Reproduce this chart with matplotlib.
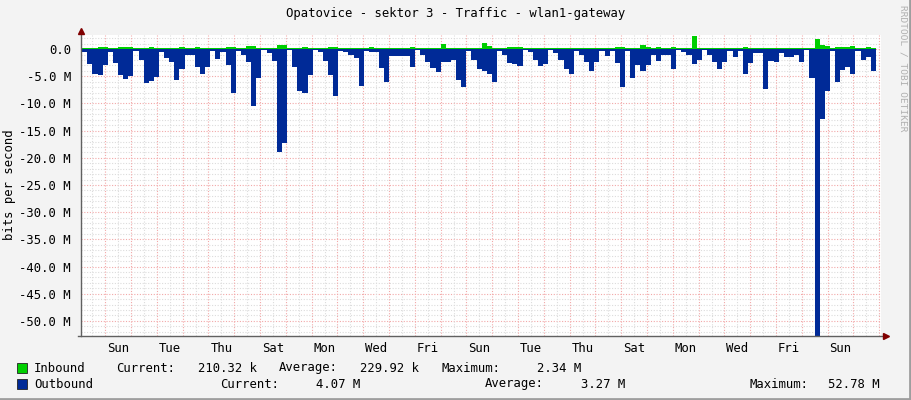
import numpy as np
import matplotlib
matplotlib.use("Agg")
import matplotlib.pyplot as plt
from matplotlib.patches import Rectangle

W, H = 911, 400

# traffic in Mbit/s, one value per rrd step (outbound is drawn below zero)
outbound = [
    0.6, 2.8, 4.5, 4.8, 2.9, 0.6, 2.6, 4.8, 5.5, 4.9,
    0.3, 2.0, 6.2, 5.9, 5.1, 0.5, 1.7, 2.3, 5.7, 3.7,
    1.0, 1.1, 3.2, 4.5, 3.2, 0.3, 1.9, 0.5, 2.9, 8.0,
    0.3, 1.0, 2.4, 10.5, 5.3, 0.2, 0.8, 2.2, 18.9, 17.2,
    0.2, 3.25, 7.7, 8.1, 4.7, 0.2, 0.5, 2.2, 4.8, 8.6,
    0.3, 0.6, 1.0, 1.7, 6.7, 0.3, 0.6, 0.6, 3.4, 6.0,
    1.3, 1.3, 1.3, 1.3, 3.2, 0.2, 1.0, 2.3, 3.5, 4.2,
    2.3, 2.3, 2.0, 5.6, 7.0, 0.3, 2.0, 3.7, 4.0, 4.5,
    6.0, 0.3, 1.0, 2.6, 2.8, 3.1, 0.2, 0.6, 2.0, 3.1,
    2.8, 0.2, 0.8, 2.0, 3.6, 4.5, 0.3, 1.0, 2.4, 4.0,
    2.4, 0.3, 1.2, 0.3, 2.6, 6.9, 0.3, 5.3, 2.9, 4.0,
    2.9, 1.0, 2.2, 1.0, 1.0, 3.6, 0.2, 0.5, 1.1, 2.8,
    2.0, 0.2, 1.1, 2.4, 3.6, 2.4, 0.3, 1.4, 0.4, 4.5,
    2.6, 0.7, 0.7, 7.3, 2.2, 2.3, 0.7, 1.5, 1.5, 1.1,
    2.3, 0.2, 5.3, 52.78, 12.9, 7.7, 0.3, 6.0, 3.9, 3.25,
    4.5, 0.3, 2.0, 1.4, 4.07,
]
inbound = [
    0.2, 0.25, 0.25, 0.4, 0.4, 0.2, 0.25, 0.4, 0.4, 0.4,
    0.2, 0.25, 0.3, 0.4, 0.3, 0.2, 0.25, 0.3, 0.3, 0.45,
    0.25, 0.25, 0.45, 0.3, 0.3, 0.2, 0.3, 0.2, 0.4, 0.4,
    0.2, 0.3, 0.6, 0.6, 0.3, 0.2, 0.3, 0.3, 0.8, 0.8,
    0.2, 0.25, 0.3, 0.45, 0.3, 0.2, 0.2, 0.3, 0.4, 0.4,
    0.2, 0.25, 0.25, 0.3, 0.3, 0.2, 0.45, 0.3, 0.25, 0.3,
    0.25, 0.25, 0.25, 0.25, 0.4, 0.2, 0.25, 0.25, 0.3, 0.3,
    0.9, 0.3, 0.3, 0.3, 0.25, 0.2, 0.3, 0.3, 1.1, 0.5,
    0.3, 0.2, 0.25, 0.35, 0.35, 0.35, 0.2, 0.25, 0.3, 0.3,
    0.3, 0.2, 0.25, 0.3, 0.3, 0.3, 0.2, 0.2, 0.3, 0.3,
    0.3, 0.2, 0.25, 0.2, 0.4, 0.4, 0.2, 0.3, 0.3, 0.7,
    0.4, 0.25, 0.35, 0.25, 0.25, 0.35, 0.2, 0.2, 0.25, 2.34,
    0.3, 0.2, 0.3, 0.3, 0.3, 0.3, 0.2, 0.25, 0.2, 0.35,
    0.3, 0.25, 0.2, 0.3, 0.3, 0.3, 0.2, 0.25, 0.25, 0.25,
    0.25, 0.2, 0.3, 1.84, 0.74, 0.6, 0.2, 0.4, 0.4, 0.4,
    0.6, 0.25, 0.3, 0.35, 0.21,
]
day_labels = ['Sun', 'Tue', 'Thu', 'Sat', 'Mon', 'Wed', 'Fri', 'Sun',
              'Tue', 'Thu', 'Sat', 'Mon', 'Wed', 'Fri', 'Sun']

title = 'Opatovice - sektor 3 - Traffic - wlan1-gateway'
legend_rows = [
    ('Inbound', '#00CF00', [(116, 'Current:'), (198, '210.32 k'), (279, 'Average:'),
                            (360, '229.92 k'), (441, 'Maximum:'), (537, '2.34 M')]),
    ('Outbound', '#002A97', [(220, 'Current:'), (316, '4.07 M'), (485, 'Average:'),
                             (581, '3.27 M'), (750, 'Maximum:'), (828, '52.78 M')]),
]

step = 0.1985        # days per sample
first_edge = 0.058   # day of first sample edge
first_midnight = 0.953
x_end = 31.02

plt.rcParams['font.family'] = ['DejaVu Sans Mono']
FS = 8.8


def fx(x):
    return x / W


def fy(y):
    return 1 - y / H


fig = plt.figure(figsize=(W / 100, H / 100), dpi=100, facecolor='#f3f3f3')
ax = fig.add_axes([fx(80.7), fy(336), (881 - 80.7) / W, (336 - 35) / H])
ax.set_facecolor('white')

n = len(outbound)
edges = np.r_[0, first_edge + step * np.arange(1, n + 1)]
out_v = -np.r_[outbound, outbound[-1]]
in_v = np.r_[inbound, inbound[-1]]

ax.set_xlim(0, x_end)
ax.set_ylim(-52.78, 2.6)

# grid, rrdtool style
for v in np.arange(2, -53, -1):
    major = v % 5 == 0
    ax.axhline(v, color='#f2a8a8' if major else '#dcdcdc', lw=0.8,
               ls=(0, (1, 1.5)), zorder=1)
days = np.arange(first_midnight - 1, x_end, 1.0)
for d in days:
    if d > 0:
        ax.axvline(d, color='#f2a8a8', lw=0.8, ls=(0, (1, 1.5)), zorder=1)
    if 0 < d + 0.5 < x_end:
        ax.axvline(d + 0.5, color='#dcdcdc', lw=0.8, ls=(0, (1, 1.5)), zorder=1)

ax.fill_between(edges, 0, in_v, step='post', color='#00CF00', lw=0, zorder=2)
ax.fill_between(edges, 0, out_v, step='post', color='#002A97', lw=0, zorder=3)

for s in ax.spines.values():
    s.set_visible(False)

# axes with arrows
ax.plot([0, 0], [-52.78, 3.4], color='#606060', lw=1, clip_on=False, zorder=4)
ax.plot([-0.1, x_end + 0.15], [-52.78, -52.78], color='#606060', lw=1, clip_on=False, zorder=4)
ax.plot([0], [3.4], marker='^', color='#800000', ms=5, clip_on=False, zorder=5)
ax.plot([x_end + 0.2], [-52.78], marker='>', color='#800000', ms=5, clip_on=False, zorder=5)

yt = np.arange(0, -51, -5)
ax.set_yticks(yt)
ax.set_yticklabels(['0.0'] + ['%.1f M' % v for v in yt[1:]], fontsize=FS)
ax.set_xticks(first_midnight + 0.5 + 2 * np.arange(len(day_labels)))
ax.set_xticklabels(day_labels, fontsize=FS)
ax.tick_params(axis='y', length=0, pad=7)
ax.tick_params(axis='x', length=0, pad=4)

fig.text(fx(455.5), fy(14), title, ha='center', va='center', fontsize=FS)
fig.text(fx(10), fy(185), 'bits per second', rotation=90, ha='center', va='center', fontsize=FS)
fig.text(fx(903), fy(5), 'RRDTOOL / TOBI OETIKER', rotation=270, ha='center', va='top',
         fontsize=6.8, color='#b0b0b0')

for i, (name, col, items) in enumerate(legend_rows):
    yc = 368 + 16 * i
    fig.patches.append(Rectangle((fx(17), fy(yc + 5)), 10 / W, 10 / H, transform=fig.transFigure,
                                 facecolor=col, edgecolor='#222222', lw=0.6))
    fig.text(fx(34), fy(yc), name, ha='left', va='center', fontsize=FS)
    for x, t in items:
        fig.text(fx(x), fy(yc), t, ha='left', va='center', fontsize=FS)

# 3d-ish frame
fig.add_artist(plt.Line2D([0, 1], [fy(398.5)] * 2, transform=fig.transFigure, color='#9e9e9e', lw=2))
fig.add_artist(plt.Line2D([fx(909.5)] * 2, [0, 1], transform=fig.transFigure, color='#9e9e9e', lw=2))

fig.savefig('out.png', dpi=100, facecolor=fig.get_facecolor())
